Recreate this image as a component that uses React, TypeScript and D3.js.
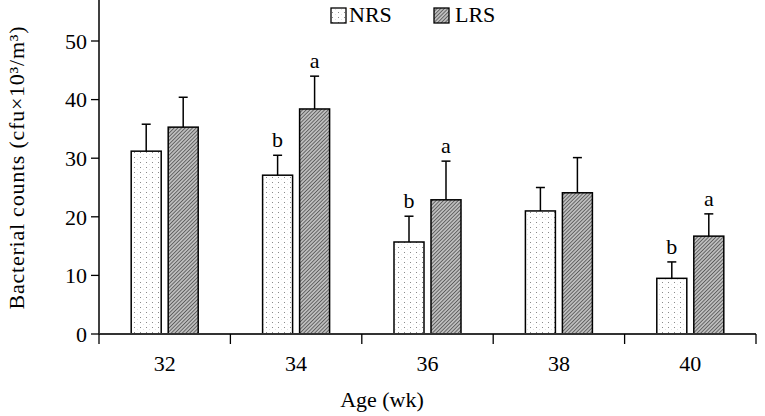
import React from "react";
import * as d3 from "d3";

const ages = ["32", "34", "36", "38", "40"];
const series = ["NRS", "LRS"];
const nrsMean = [31.2, 27.1, 15.7, 21.0, 9.5];
const nrsErr = [4.6, 3.4, 4.4, 4.0, 2.8];
const lrsMean = [35.3, 38.4, 22.9, 24.1, 16.7];
const lrsErr = [5.1, 5.6, 6.6, 6.0, 3.8];
const nrsLetters = ["", "b", "b", "", "b"];
const lrsLetters = ["", "a", "a", "", "a"];
const yTicks = [0, 10, 20, 30, 40, 50];

const W = 765;
const H = 416;
const FONT = "'Liberation Serif', 'Times New Roman', Times, serif";
const FS = 22;

export default function App() {
  const x = d3.scaleBand<string>().domain(ages).range([99, 756]).padding(0);
  const y = d3.scaleLinear().domain([0, 50]).range([334, 41]);
  const sub = d3
    .scaleBand<string>()
    .domain(series)
    .range([0, 67])
    .paddingInner(0.189)
    .paddingOuter(0);
  const offset = (x.bandwidth() - 67) / 2;
  const means = [nrsMean, lrsMean];
  const errs = [nrsErr, lrsErr];
  const letters = [nrsLetters, lrsLetters];
  const fills = ["url(#dots)", "url(#hatch)"];
  const edges = [...ages.map((a) => x(a) as number), 756];

  return (
    <svg
      width={W}
      height={H}
      style={{ position: "absolute", left: 0, top: 0, background: "#fff" }}
      fontFamily={FONT}
    >
      <defs>
        <pattern id="dots" patternUnits="userSpaceOnUse" width="6" height="5">
          <rect width="6" height="5" fill="#fff" />
          <rect x="2" y="2" width="1" height="1" fill="#8a8a8a" />
          <rect x="5" y="4.5" width="1" height="0.5" fill="#c8c8c8" />
        </pattern>
        <pattern
          id="hatch"
          patternUnits="userSpaceOnUse"
          width="2.6"
          height="2.6"
          patternTransform="rotate(45)"
        >
          <rect width="2.6" height="2.6" fill="#bdbdbd" />
          <line x1="0" y1="0" x2="0" y2="2.6" stroke="#3a3a3a" strokeWidth="1.3" />
        </pattern>
      </defs>

      {/* bars */}
      {series.map((s, si) =>
        ages.map((a, i) => {
          const bx = (x(a) as number) + offset + (sub(s) as number);
          const bw = sub.bandwidth();
          const top = y(means[si][i]);
          const et = y(means[si][i] + errs[si][i]);
          const cx = bx + bw / 2;
          return (
            <g key={s + a}>
              <rect
                x={bx}
                y={top}
                width={bw}
                height={y(0) - top}
                fill={fills[si]}
                stroke="#000"
                strokeWidth={1.5}
              />
              <line x1={cx} x2={cx} y1={top} y2={et} stroke="#000" strokeWidth={1.5} />
              <line x1={cx - 4.5} x2={cx + 4.5} y1={et} y2={et} stroke="#000" strokeWidth={1.5} />
              {letters[si][i] && (
                <text x={cx} y={et - 8} textAnchor="middle" fontSize={FS}>
                  {letters[si][i]}
                </text>
              )}
            </g>
          );
        })
      )}

      {/* axes */}
      <line x1={99} x2={99} y1={0} y2={334} stroke="#000" strokeWidth={1.5} />
      <line x1={99} x2={756} y1={334} y2={334} stroke="#333" strokeWidth={2} />
      {yTicks.map((t) => (
        <g key={t}>
          <line x1={91} x2={99} y1={y(t)} y2={y(t)} stroke="#000" strokeWidth={1.3} />
          <text x={87} y={y(t)} dy="0.35em" textAnchor="end" fontSize={FS}>
            {t}
          </text>
        </g>
      ))}
      {edges.map((e, i) => (
        <line key={i} x1={e} x2={e} y1={334} y2={344} stroke="#000" strokeWidth={1.3} />
      ))}
      {ages.map((a) => (
        <text
          key={a}
          x={(x(a) as number) + x.bandwidth() / 2}
          y={371}
          textAnchor="middle"
          fontSize={FS}
        >
          {a}
        </text>
      ))}
      <text x={382} y={407} textAnchor="middle" fontSize={FS}>
        Age (wk)
      </text>
      <text
        transform="translate(24,168) rotate(-90)"
        textAnchor="middle"
        fontSize={FS}
        textLength={283}
        lengthAdjust="spacing"
      >
        Bacterial counts (cfu×10³/m³)
      </text>

      {/* legend */}
      <rect x={331} y={8} width={15} height={15} fill="url(#dots)" stroke="#000" strokeWidth={1.3} />
      <text x={349} y={22} fontSize={FS}>NRS</text>
      <rect x={434} y={8} width={15} height={15} fill="url(#hatch)" stroke="#000" strokeWidth={1.3} />
      <text x={455} y={22} fontSize={FS}>LRS</text>
    </svg>
  );
}
